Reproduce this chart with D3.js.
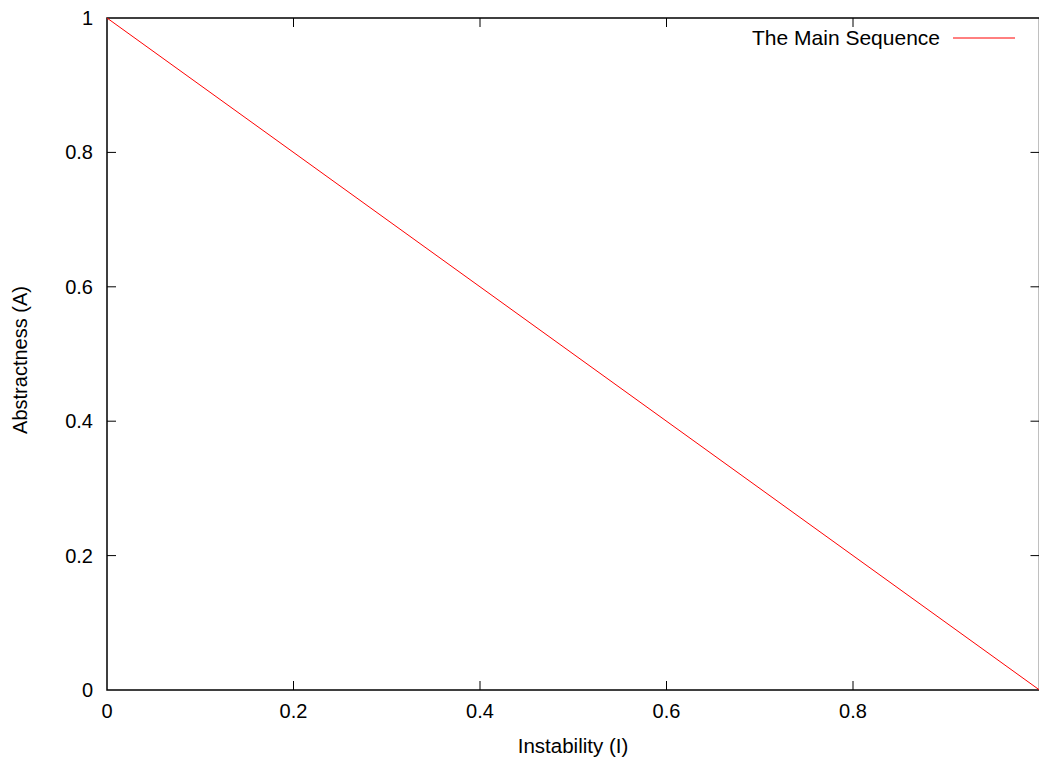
<!DOCTYPE html>
<html>
<head>
<meta charset="utf-8">
<script src="https://cdn.jsdelivr.net/npm/d3@7"></script>
<style>
  html, body { margin: 0; padding: 0; background: #fff; }
  svg { display: block; }
  text { font-family: "Liberation Sans", Arial, Helvetica, sans-serif; fill: #000; }
</style>
</head>
<body>
<svg id="chart" width="1039" height="758"></svg>
<script>
// Main sequence: A + I = 1
const instability = [0, 1];
const abstractness = [1, 0];
const xTicks = [0, 0.2, 0.4, 0.6, 0.8];
const yTicks = [0, 0.2, 0.4, 0.6, 0.8, 1];
const seriesName = "The Main Sequence";
const xLabel = "Instability (I)";
const yLabel = "Abstractness (A)";

const svg = d3.select("#chart");
const plotLeft = 107, plotTop = 18, plotRight = 1039.5, plotBottom = 690;

const x = d3.scaleLinear().domain([0, 1]).range([plotLeft, plotRight]);
const y = d3.scaleLinear().domain([0, 1]).range([plotBottom, plotTop]);
const fmt = d => d3.format("~g")(d);
const tickLen = 9;

// frame
svg.append("rect")
  .attr("x", plotLeft).attr("y", plotTop)
  .attr("width", plotRight - plotLeft).attr("height", plotBottom - plotTop)
  .attr("fill", "none").attr("stroke", "#000").attr("stroke-width", 1.5);

// x ticks (inward, bottom and top)
const xt = svg.append("g");
xTicks.forEach(t => {
  if (t > 0 && t < 1) {
    xt.append("line").attr("x1", x(t)).attr("x2", x(t)).attr("y1", plotBottom).attr("y2", plotBottom - tickLen)
      .attr("stroke", "#000").attr("stroke-width", 1);
    xt.append("line").attr("x1", x(t)).attr("x2", x(t)).attr("y1", plotTop).attr("y2", plotTop + tickLen)
      .attr("stroke", "#000").attr("stroke-width", 1);
  }
  xt.append("text").attr("x", x(t)).attr("y", 718)
    .attr("text-anchor", "middle").attr("font-size", 20).text(fmt(t));
});

// y ticks (inward, left and right)
const yt = svg.append("g");
yTicks.forEach(t => {
  if (t > 0 && t < 1) {
    yt.append("line").attr("x1", plotLeft).attr("x2", plotLeft + tickLen).attr("y1", y(t)).attr("y2", y(t))
      .attr("stroke", "#000").attr("stroke-width", 1);
    yt.append("line").attr("x1", plotRight).attr("x2", plotRight - tickLen).attr("y1", y(t)).attr("y2", y(t))
      .attr("stroke", "#000").attr("stroke-width", 1);
  }
  yt.append("text").attr("x", 93).attr("y", y(t)).attr("dy", "0.35em")
    .attr("text-anchor", "end").attr("font-size", 20).text(fmt(t));
});

// axis labels
svg.append("text").attr("x", 573).attr("y", 753)
  .attr("text-anchor", "middle").attr("font-size", 20.5).text(xLabel);
svg.append("text").attr("transform", `translate(27,${(plotTop + plotBottom) / 2 + 6}) rotate(-90)`)
  .attr("text-anchor", "middle").attr("font-size", 20).text(yLabel);

// the line
const line = d3.line().x(d => x(d[0])).y(d => y(d[1]));
svg.append("path")
  .datum(instability.map((v, i) => [v, abstractness[i]]))
  .attr("d", line).attr("fill", "none").attr("stroke", "#ff0000").attr("stroke-width", 1);

// legend
svg.append("text").attr("x", 940).attr("y", 45)
  .attr("text-anchor", "end").attr("font-size", 21).text(seriesName);
svg.append("line").attr("x1", 953).attr("x2", 1015).attr("y1", 38).attr("y2", 38)
  .attr("stroke", "#ff0000").attr("stroke-width", 1);
</script>
</body>
</html>
